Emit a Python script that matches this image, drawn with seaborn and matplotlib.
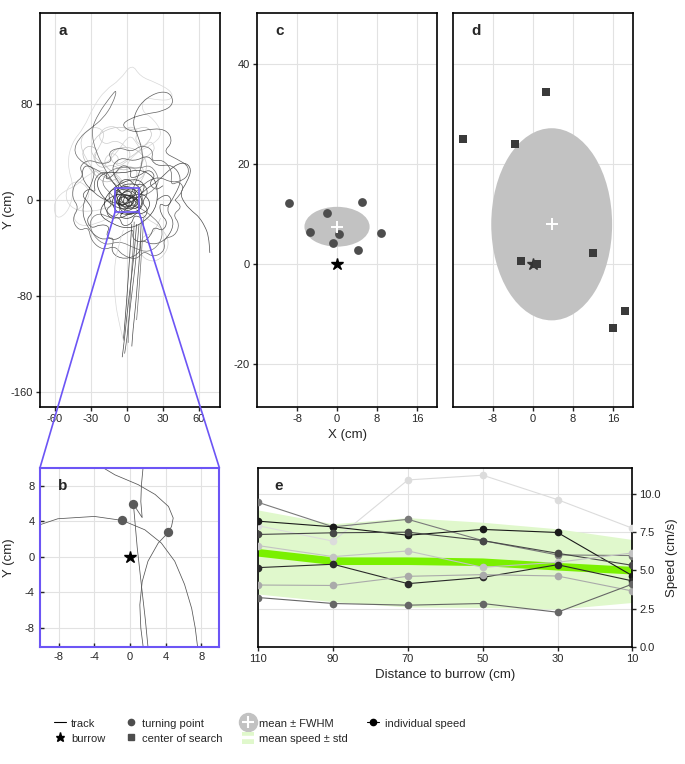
import numpy as np
import pandas as pd
import matplotlib
matplotlib.use('Agg')
import matplotlib.pyplot as plt
import seaborn as sns
from matplotlib.patches import Ellipse, Rectangle, ConnectionPatch, PathPatch, Patch
from matplotlib.path import Path
from matplotlib.lines import Line2D
from matplotlib.legend_handler import HandlerTuple

# ---------------- data ----------------
# panel a: foraging tracks (cm), with their grey shade
tracks_a = [
    ('#d8d8d8', [2, -8, -20, -32, -42, -52, -60, -61, -57, -48, -44, -50, -46, -36, -28, -18, -6, 4, 11, 24, 37, 38, 27, 14, 12, 22, 30, 21, 8, -2, 3],
                [8, 18, 26, 22, 12, 8, 0, -10, -16, -8, 10, 30, 48, 60, 78, 92, 100, 114, 103, 98, 91, 84, 83, 86, 74, 68, 55, 46, 40, 28, 15]),
    ('#cfcfcf', [0, -10, -25, -35, -40, -30, -18, -22, -30, -20, -8, 2, 8, 15, 10, -2, -12, -5, 5],
                [5, 15, 22, 35, 50, 62, 58, 45, 35, 28, 40, 55, 48, 35, 25, 30, 20, 10, 2]),
    ('#c4c4c4', [3, 12, 18, 10, -5, -15, -10, 2, 15, 22, 16, 5, -8, -25, -32, -20, -8, 0],
                [3, 15, 30, 42, 45, 38, 28, 35, 45, 55, 62, 58, 62, 55, 40, 30, 20, 8]),
    ('#cccccc', [0, -6, -14, -20, -14, -6, -10, -2, 4, -2, -10, -18, -24, -20, -10, -4, 2, 10, 6, 14, 20, 24, 16, 10, 16, 8],
                [10, 20, 24, 32, 40, 36, 28, 30, 38, 46, 50, 46, 52, 60, 62, 56, 62, 58, 50, 44, 50, 42, 36, 30, 22, 16]),
    ('#bbbbbb', [2, 10, 6, -4, -12, -22, -28, -24, -32, -38, -34, -26, -18, -8],
                [12, 20, 28, 24, 30, 26, 34, 42, 46, 40, 30, 20, 14, 18]),
    ('#d4d4d4', [0, -15, -30, -45, -52, -48, -38, -30, -36, -46, -40, -25, -10],
                [0, -6, -10, -8, 2, 14, 16, 6, -4, -12, -22, -20, -12]),
    ('#d0d0d0', [5, 15, 28, 36, 30, 20, 10, 12, 22, 28],
                [-5, -15, -22, -35, -48, -52, -45, -30, -28, -15]),
    ('#5c5c5c', [2, 8, 14, 10, 4, 10, 24, 36, 39, 30, 16, 2, -5, 6, 22, 34, 38, 30, 42, 52, 50, 38, 26, 14, 5],
                [2, 16, 35, 52, 64, 80, 90, 90, 80, 74, 72, 68, 62, 56, 60, 58, 48, 40, 34, 28, 18, 14, 20, 14, 4]),
    ('#6a6a6a', [-2, -10, -18, -26, -30, -24, -14, -8, -12, -20, -30, -40, -45, -36, -22, -10, -4],
                [2, 12, 25, 40, 58, 72, 86, 93, 80, 68, 60, 52, 40, 30, 24, 14, 4]),
    ('#4a4a4a', [4, 14, 26, 38, 48, 54, 50, 44, 48, 55, 60, 65, 68, 69],
                [-2, 8, 16, 28, 32, 26, 15, 6, -3, -10, -14, -22, -30, -44]),
    ('#555555', [0, -15, -28, -38, -36, -26, -30, -38, -34, -22, -10, -14, -2, 12, 10, 22, 34, 40, 32, 40, 46, 38, 24, 18, 6, -6, -14, -4],
                [-4, -2, 6, 18, 30, 26, 12, -6, -22, -34, -30, -44, -50, -44, -32, -38, -32, -18, -8, 4, 18, 30, 28, 38, 32, 36, 26, 10]),
    ('#505050', [25, 32, 38, 33, 27, 28, 34, 30, 22, 20, 12, 4, 6, -2, -10, -18, -14, -22, -30, -34, -28, -32, -38, -32, -26, -28, -24, -16, -18, -10, -4, 4, 2, 10, 18, 24, 18, 24, 30],
                [0, 6, 0, -6, -2, -12, -18, -26, -22, -30, -36, -32, -24, -28, -34, -30, -22, -20, -24, -16, -10, -2, 4, 10, 6, 14, 22, 24, 16, 22, 30, 26, 18, 20, 26, 20, 14, 8, 12]),
    ('#656565', [40, 48, 44, 36, 38, 30, 20, 22, 12, 4, -6, -16, -12, -22, -32, -40, -36, -44, -46, -40, -46, -40, -32, -30, -20, -10, -4, 8, 14, 22, 32, 30, 40, 44, 38, 46, 40],
                [0, 8, 16, 12, 24, 34, 32, 42, 46, 40, 44, 40, 32, 30, 34, 28, 20, 14, 2, -6, -16, -26, -22, -34, -42, -38, -46, -50, -42, -48, -42, -32, -30, -20, -12, -6, 0]),
    ('#777777', [0, 10, 22, 30, 28, 18, 6, -6, -18, -28, -32, -24, -12, -4, -12, -22, -16, -4, 10, 20, 28, 20, 8],
                [0, -6, -14, -24, -36, -44, -40, -34, -38, -30, -18, -10, -16, -8, 4, 14, 24, 28, 26, 30, 16, 6, 2]),
    ('#3d3d3d', [0, 8, 16, 20, 14, 4, -6, -16, -20, -14, -4, 8, 16, 10, -2, -10, -6, 4, 6, 0, -10, -22, -26, -18, -4, 10, 22, 26, 24, 12, 0, -12, -24, -18, -6, 5, 12, 4],
                [0, 6, 4, -4, -12, -10, -16, -12, -2, 8, 15, 18, 12, 2, -4, 2, 10, 7, -2, -8, -6, 4, 16, 24, 22, 26, 20, 8, -8, -20, -24, -20, -12, 0, 6, 2, -8, -4]),
    ('#2e2e2e', [2, -6, -12, -8, 2, 10, 14, 8, -2, -8, -4, 6, 12, 6, -4, -10, -2, 8],
                [-2, -6, 2, 10, 12, 6, -4, -10, -12, -4, 4, 4, -4, -8, -6, 2, 6, 0]),
    ('#333333', [0, 6, 10, 5, -2, -6, -2, 5, 8, 2, -4, -9, -10, -5, 3, 10, 13, 12, 6, -3, -10, -13, -8, -1, 3, -2, -7, 2, 9],
                [0, 4, -2, -7, -4, 2, 8, 10, 5, 1, -6, -3, 5, 12, 14, 12, 4, -6, -12, -12, -9, 0, 6, 3, -3, -9, -14, -16, -10]),
    ('#474747', [0, -5, -12, -16, -12, -18, -14, -6, -4, 4, 6, 14, 18, 12, 18, 14, 6, 2, -6, -8, -2],
                [2, 6, 10, 4, -4, -8, -16, -14, -22, -20, -12, -16, -8, -2, 6, 14, 12, 18, 16, 8, 4]),
    ('#3a3a3a', [-1, 4, 7, 3, -3, -7, -5, 1, 6, 9, 5, -2, -8, -6, 0, 5, 2, -4, -1],
                [1, 5, 0, -5, -6, -1, 5, 8, 7, 2, -8, -9, -4, 3, 2, -3, -6, -2, 4]),
    ('#444444', [8, 6, 3, 0, -2, -4], [-20, -45, -70, -95, -115, -131]),
    ('#555555', [10, 8, 5, 2, 0, -2], [-20, -45, -70, -95, -115, -128]),
    ('#4a4a4a', [12, 11, 9, 7, 5, 4], [-15, -40, -65, -90, -108, -122]),
    ('#666666', [6, 5, 3, 2, 1, 1], [-18, -45, -70, -95, -110, -119]),
    ('#3a3a3a', [4, 2, 0, -2, -3], [-20, -50, -80, -105, -117]),
    ('#707070', [14, 12, 10, 8], [-15, -45, -75, -100]),
    ('#d8d8d8', [-3, -8, -11, -10, -6, -3], [-25, -40, -60, -85, -105, -117]),
]

# panel b: one close-up track near the burrow
tracks_b = [
    ([-10.1, -8.1, -4.0, -0.87, 1.65, 3.5, 5.0, 6.1, 6.9, 7.3, 7.56],
     [3.6, 4.27, 4.53, 4.08, 3.03, 1.54, -0.5, -3.1, -5.8, -8.0, -10.1]),
    ([-3.2, -1.7, 0.9, 2.8, 4.3, 4.83, 4.64, 4.27, 3.15, 2.0, 1.35, 1.09, 1.2, 1.46],
     [10.1, 9.2, 8.1, 7.0, 5.65, 4.35, 3.4, 2.73, 1.54, -0.5, -2.8, -5.4, -8.0, -10.1]),
    ([1.46, 1.27, 1.2, 1.35, 0.37, 0.8, 1.3, 1.7, 2.0],
     [10.1, 8.1, 6.2, 4.4, 5.9, 1.0, -3.5, -7.0, -10.1]),
]
turn_b_x = [-0.87, 0.37, 4.27]
turn_b_y = [4.08, 5.9, 2.73]

# panel c: turning points (cm)
turn_x = [-9.6, -2.1, 4.9, -5.5, 0.3, 8.7, -0.9, 4.2]
turn_y = [12.1, 10.1, 12.3, 6.3, 5.9, 6.1, 4.1, 2.7]

# panel d: centers of search (cm)
center_x = [2.7, -14.0, -3.6, 11.9, -2.3, 0.9, 18.3, 16.0]
center_y = [34.4, 24.9, 23.9, 2.2, 0.5, -0.1, -9.4, -12.9]

# panel e: speed vs distance to burrow
distance = [110, 90, 70, 50, 30, 10]
speed_ind = {
    'A': [7.92, 6.91, 10.92, 11.23, 9.63, 7.76],
    'B': [9.45, 7.85, 8.34, 6.95, 6.01, 5.97],
    'C': [8.22, 7.85, 7.30, 7.68, 7.48, 4.65],
    'D': [7.35, 7.46, 7.50, 6.95, 6.12, 5.33],
    'E': [6.62, 5.90, 6.27, 5.20, 5.53, 6.14],
    'F': [5.18, 5.40, 4.13, 4.54, 5.37, 4.31],
    'G': [4.04, 4.01, 4.61, 4.72, 4.63, 3.65],
    'H': [3.22, 2.83, 2.72, 2.83, 2.26, 4.10],
}
ind_colors = {'A': '#dcdcdc', 'B': '#7a7a7a', 'C': '#1a1a1a', 'D': '#474747',
              'E': '#c3c3c3', 'F': '#2a2a2a', 'G': '#aaaaaa', 'H': '#666666'}
speed_mean = [6.15, 5.6, 5.6, 5.53, 5.24, 4.98]
speed_upper = [8.95, 8.05, 8.45, 8.15, 7.72, 7.02]
speed_lower = [3.45, 2.95, 2.6, 2.57, 2.46, 2.9]

BLUE = '#6c55f5'
GREEN_BAND = '#e0f8cc'
GREEN_LINE = '#7af000'
ELL_GREY = '#c2c2c2'
PT_GREY = '#4d4d4d'

# ---------------- style ----------------
sns.set_style('whitegrid', {'grid.color': '#e2e2e2', 'axes.edgecolor': 'black'})
plt.rcParams['font.family'] = ['Liberation Sans', 'DejaVu Sans']
plt.rcParams['axes.unicode_minus'] = False
plt.rcParams['axes.linewidth'] = 1.2
plt.rcParams['xtick.labelsize'] = 8
plt.rcParams['ytick.labelsize'] = 8
plt.rcParams['axes.labelsize'] = 9.5


def smooth_track(ax, xs, ys, color, lw=0.5):
    pts = np.column_stack([xs, ys]).astype(float)
    verts = [pts[0]]
    codes = [Path.MOVETO]
    for i in range(1, len(pts) - 1):
        verts += [pts[i], (pts[i] + pts[i + 1]) / 2]
        codes += [Path.CURVE3, Path.CURVE3]
    verts.append(pts[-1])
    codes.append(Path.LINETO)
    ax.add_patch(PathPatch(Path(verts, codes), fill=False, edgecolor=color, lw=lw))


def fwhm_ellipse(ax, xs, ys):
    xs, ys = np.asarray(xs), np.asarray(ys)
    k = 2 * np.sqrt(2 * np.log(2))
    ax.add_patch(Ellipse((xs.mean(), ys.mean()), k * xs.std(), k * ys.std(),
                         facecolor=ELL_GREY, edgecolor='none', zorder=1))
    ax.plot(xs.mean(), ys.mean(), marker='+', color='white', ms=9, mew=1.4, zorder=4)


fig = plt.figure(figsize=(6.85, 7.64), dpi=100)
ax_a = fig.add_axes([0.0584, 0.4673, 0.2628, 0.5157])
ax_c = fig.add_axes([0.3752, 0.4673, 0.2628, 0.5157])
ax_d = fig.add_axes([0.6613, 0.4673, 0.2628, 0.5157])
ax_b = fig.add_axes([0.0584, 0.1535, 0.2618, 0.2343])
ax_e = fig.add_axes([0.3771, 0.1535, 0.546, 0.2339])

# ---- a ----
for col, xs, ys in tracks_a:
    smooth_track(ax_a, xs, ys, col)
ax_a.add_patch(Rectangle((-10, -10), 20, 20, fill=False, edgecolor=BLUE, lw=1.2, zorder=5))
ax_a.set_xlim(-72.5, 77.5)
ax_a.set_ylim(-172.5, 156)
ax_a.set_xticks([-60, -30, 0, 30, 60])
ax_a.set_yticks([-160, -80, 0, 80])
ax_a.set_ylabel('Y (cm)')
ax_a.yaxis.set_label_coords(-0.14, 0.5)
ax_a.tick_params(bottom=True, left=True, length=3, width=1, direction='out', pad=2)

# ---- b ----
for xs, ys in tracks_b:
    ax_b.plot(xs, ys, color='#555555', lw=0.55)
sns.scatterplot(x=turn_b_x, y=turn_b_y, ax=ax_b, color='#5a5a5a', s=45, linewidth=0, zorder=3)
ax_b.plot(0, 0, marker='*', color='black', ms=9, ls='none', zorder=4)
ax_b.set_xlim(-10.1, 10)
ax_b.set_ylim(-10.1, 10)
ax_b.set_xticks([-8, -4, 0, 4, 8])
ax_b.set_yticks([-8, -4, 0, 4, 8])
ax_b.set_ylabel('Y (cm)')
ax_b.yaxis.set_label_coords(-0.14, 0.5)
ax_b.tick_params(bottom=True, left=True, length=3, width=1, direction='in', pad=4)
for sp in ax_b.spines.values():
    sp.set_edgecolor(BLUE)
    sp.set_linewidth(1.5)

for xa, xb in [((-10, -10), (0, 1)), ((10, -10), (1, 1))]:
    con = ConnectionPatch(xyA=xa, coordsA='data', axesA=ax_a,
                          xyB=xb, coordsB='axes fraction', axesB=ax_b,
                          color=BLUE, lw=1.2)
    fig.add_artist(con)

# ---- c ----
fwhm_ellipse(ax_c, turn_x, turn_y)
sns.scatterplot(x=turn_x, y=turn_y, ax=ax_c, color=PT_GREY, s=40, linewidth=0, zorder=3)
ax_c.plot(0, 0, marker='*', color='black', ms=9, ls='none', zorder=4)
ax_c.set_xlabel('X (cm)')

# ---- d ----
fwhm_ellipse(ax_d, center_x, center_y)
sns.scatterplot(x=center_x, y=center_y, ax=ax_d, color='#3a3a3a', marker='s', s=28, linewidth=0, zorder=3)
ax_d.plot(0, 0, marker='*', color='#333333', ms=9, ls='none', zorder=2)

for ax in (ax_c, ax_d):
    ax.set_xlim(-16, 20)
    ax.set_ylim(-28.6, 50.2)
    ax.set_xticks([-8, 0, 8, 16])
    ax.set_yticks([-20, 0, 20, 40])
    ax.tick_params(bottom=True, left=True, length=3, width=1, direction='out', pad=2)
ax_d.tick_params(left=False, labelleft=False)

# ---- e ----
speed_df = pd.DataFrame([(d, v, k) for k, vals in speed_ind.items() for d, v in zip(distance, vals)],
                        columns=['distance', 'speed', 'animal'])
ax_e.fill_between(distance, speed_lower, speed_upper, color=GREEN_BAND, lw=0, zorder=1)
ax_e.plot(distance, speed_mean, color=GREEN_LINE, lw=5.5, solid_capstyle='butt', zorder=2)
sns.lineplot(data=speed_df, x='distance', y='speed', hue='animal', palette=ind_colors,
             estimator=None, sort=False, marker='o', markersize=5.5, markeredgewidth=0,
             lw=0.8, legend=False, ax=ax_e, zorder=3)
ax_e.set_xlim(110, 10)
ax_e.set_ylim(0, 11.7)
ax_e.set_xticks(distance)
ax_e.set_yticks([0, 2.5, 5, 7.5, 10])
ax_e.set_yticklabels(['0.0', '2.5', '5.0', '7.5', '10.0'])
ax_e.yaxis.tick_right()
ax_e.yaxis.set_label_position('right')
ax_e.set_xlabel('Distance to burrow (cm)')
ax_e.set_ylabel('Speed (cm/s)')
ax_e.tick_params(bottom=True, right=True, length=3, width=1, direction='out', pad=2)

# panel letters
for ax, lab, pos in [(ax_a, 'a', (0.1, 0.955)), (ax_c, 'c', (0.1, 0.955)), (ax_d, 'd', (0.1, 0.955)),
                     (ax_b, 'b', (0.1, 0.9)), (ax_e, 'e', (0.042, 0.9))]:
    ax.text(pos[0], pos[1], lab, transform=ax.transAxes, fontsize=11, fontweight='bold',
            va='center', ha='left')

# ---- legend ----
handles = [
    Line2D([], [], color='black', lw=0.8),
    Line2D([], [], color='black', marker='*', ms=6.5, ls='none'),
    Line2D([], [], color=PT_GREY, marker='o', ms=4.5, ls='none'),
    Line2D([], [], color=PT_GREY, marker='s', ms=4, ls='none'),
    (Line2D([], [], color=ELL_GREY, marker='o', ms=13, ls='none'),
     Line2D([], [], color='white', marker='+', ms=8, mew=1.5, ls='none')),
    (Patch(facecolor=GREEN_BAND, edgecolor='none'), Line2D([], [], color='white', lw=2.5)),
    Line2D([], [], color='black', lw=0.8, marker='o', ms=4.5),
]
labels = ['track', 'burrow', 'turning point', 'center of search',
          'mean ± FWHM', 'mean speed ± std', 'individual speed']
fig.legend(handles, labels, ncol=4, loc='upper left', bbox_to_anchor=(0.07, 0.069),
           frameon=False, fontsize=8, handlelength=1.1, handleheight=1.3, handletextpad=0.5,
           columnspacing=1.7, borderpad=0, labelspacing=0.3,
           handler_map={tuple: HandlerTuple(ndivide=1, pad=0)})

fig.savefig('out.png', dpi=100)
